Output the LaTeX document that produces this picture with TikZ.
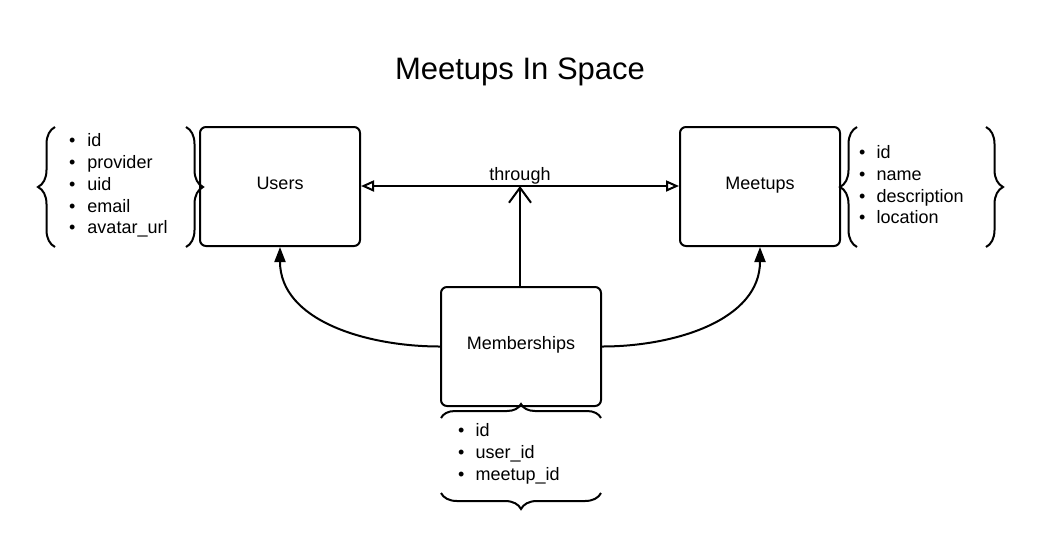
\documentclass[tikz,border=0pt]{standalone}
\usepackage{fontspec}
\setmainfont{Liberation Sans}
\usetikzlibrary{arrows.meta,decorations.pathreplacing}
\begin{document}
\begin{tikzpicture}[x=1pt,y=-1pt,
  entity/.style={draw,line width=2pt,rounded corners=6pt,minimum width=160pt,minimum height=119pt,inner sep=0pt,text height=0.72em,text depth=0.21em,font=\fontsize{18}{21.7}\selectfont},
  lbl/.style={inner sep=0pt,font=\fontsize{18}{21.7}\selectfont},
  attrs/.style={inner sep=0pt,anchor=west,font=\fontsize{18}{21.7}\selectfont},
  conn/.style={line width=2pt},
  bracel/.style={line width=2pt,decorate,decoration={brace,amplitude=#1}},
]
\useasboundingbox (0,0) rectangle (1040,547);
\node[inner sep=0pt,font=\fontsize{31}{36}\selectfont] (title) at (520,72) {Meetups In Space};
\node[entity] (users) at (280,186.5) {Users};
\node[entity] (meetups) at (760,186.5) {Meetups};
\node[entity] (mem) at (521,346.5) {Memberships};
% horizontal through arrow
\draw[conn,{Triangle[open,length=13pt,width=11pt]}-{Triangle[open,length=13pt,width=11pt]}] (users.east |- 0,186) coordinate (ue) -- (meetups.west |- 0,186) coordinate (mw);
\node[lbl] (through) at (520,175.5) {through};
\coordinate (mid) at (520,186);
\draw[conn,-{Straight Barb[length=15pt,width=22pt]}] (mem.north -| mid) -- (mid);
% curved arrows
\draw[conn,-{Triangle[length=15pt,width=11pt]}] (mem.west) to[out=180,in=-90] (users.south);
\draw[conn,-{Triangle[length=15pt,width=11pt]}] (mem.east) to[out=0,in=-90] (meetups.south);
% attribute lists
\node[attrs] (ua) at (69,186) {\begin{tabular}{@{}l@{\hspace{12pt}}l@{}}\textbullet & id\\ \textbullet & provider\\ \textbullet & uid\\ \textbullet & email\\ \textbullet & avatar\_url\end{tabular}};
\node[attrs] (ma) at (859,187) {\begin{tabular}{@{}l@{\hspace{11pt}}l@{}}\textbullet & id\\ \textbullet & name\\ \textbullet & description\\ \textbullet & location\end{tabular}};
\node[attrs] (ba) at (458,454) {\begin{tabular}{@{}l@{\hspace{11pt}}l@{}}\textbullet & id\\ \textbullet & user\_id\\ \textbullet & meetup\_id\end{tabular}};
% braces
\coordinate (b1a) at (55,247); \coordinate (b1b) at (55,127);
\draw[bracel=17pt] (b1a) -- (b1b);
\coordinate (b2a) at (186,127); \coordinate (b2b) at (186,247);
\draw[bracel=17pt] (b2a) -- (b2b);
\coordinate (b3a) at (857,247); \coordinate (b3b) at (857,127);
\draw[bracel=17pt] (b3a) -- (b3b);
\coordinate (b4a) at (986,127); \coordinate (b4b) at (986,247);
\draw[bracel=17pt] (b4a) -- (b4b);
\coordinate (b5a) at (441,418); \coordinate (b5b) at (601,418);
\draw[bracel=14pt] (b5a) -- (b5b);
\coordinate (b6a) at (601,493); \coordinate (b6b) at (441,493);
\draw[bracel=16pt] (b6a) -- (b6b);
\end{tikzpicture}
\end{document}
